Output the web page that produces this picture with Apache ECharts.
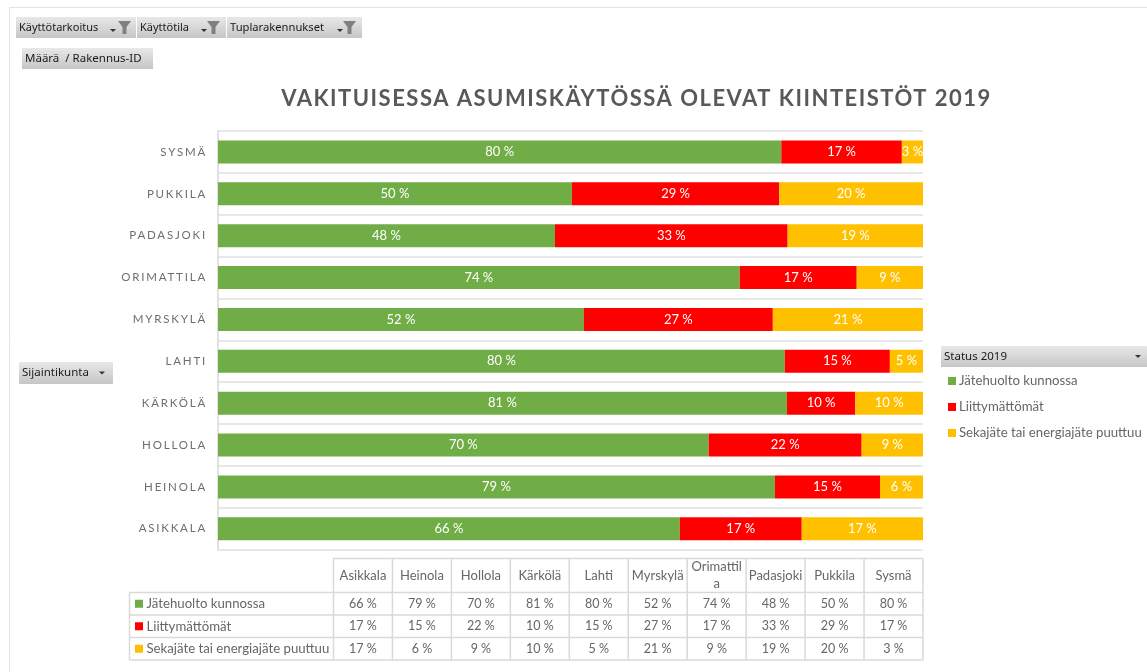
<!DOCTYPE html>
<html><head><meta charset="utf-8">
<style>html,body{margin:0;padding:0;background:#fff}#c{width:1147px;height:672px}</style>
<script src="https://cdn.jsdelivr.net/npm/echarts@6/dist/echarts.min.js"></script>
</head><body><div id="c"></div>
<script>
const categories = ["Asikkala","Heinola","Hollola","Kärkölä","Lahti","Myrskylä","Orimattila","Padasjoki","Pukkila","Sysmä"];
const tableHeaders = ["Asikkala","Heinola","Hollola","Kärkölä","Lahti","Myrskylä","Orimattil\na","Padasjoki","Pukkila","Sysmä"];
const jatehuolto = [65.5,79.0,69.6,80.7,80.4,51.9,74.0,47.8,50.2,79.9];
const liittymattomat = [17.3,14.9,21.7,9.7,14.9,26.8,16.6,33.0,29.4,17.1];
const sekajate = [17.2,6.1,8.7,9.6,4.7,21.3,9.4,19.2,20.4,3.0];
const seriesNames = ["Jätehuolto kunnossa","Liittymättömät","Sekajäte tai energiajäte puuttuu"];
const seriesColors = ["#70ad47","#ff0000","#ffc000"];
const titleText = "VAKITUISESSA ASUMISKÄYTÖSSÄ OLEVAT KIINTEISTÖT 2019";

const FONT = "Lato, 'Open Sans', sans-serif";
const UI = "'Noto Sans', sans-serif";
const spaced = new Map([[titleText,"1.5px"]]);
categories.forEach(c => spaced.set(c.toUpperCase(),"1.8px"));
const origFill = CanvasRenderingContext2D.prototype.fillText;
CanvasRenderingContext2D.prototype.fillText = function(t,x,y,m){
  this.letterSpacing = spaced.get(t) || "0px";
  return m===undefined ? origFill.call(this,t,x,y) : origFill.call(this,t,x,y,m);
};

const pct = v => Math.round(v) + " %";
const g = [];
function line(x1,y1,x2,y2,color,w){
  g.push({type:'line',silent:true,z:5,shape:{x1,y1,x2,y2},style:{stroke:color||'#d9d9d9',lineWidth:w||1.5}});
}
function text(x,y,t,size,color,align,font,lh){
  g.push({type:'text',silent:true,z:7,x,y,style:{text:t,fill:color,font:size+'px '+(font||FONT),align:align||'left',verticalAlign:'middle',lineHeight:lh||undefined}});
}
function button(x,y,w,h,label,opts){
  opts=opts||{};
  g.push({type:'rect',silent:true,z:4,shape:{x,y,width:w,height:h},style:{fill:new echarts.graphic.LinearGradient(0,0,0,1,[{offset:0,color:'#e8e8e8'},{offset:1,color:'#c6c6c6'}])}});
  text(x+3,y+h/2,label,opts.size||11.5,'#1a1a1a','left',UI);
  if(opts.arrowX){
    const a=opts.arrowX, b=y+h/2+(opts.funnel?3:0);
    g.push({type:'polygon',silent:true,z:6,shape:{points:[[a-3,b-1.5],[a+3,b-1.5],[a,b+1.5]]},style:{fill:'#333'}});
  }
  if(opts.funnel){
    const f=opts.funnel, t=y+4;
    g.push({type:'polygon',silent:true,z:6,shape:{points:[[f,t],[f+13,t],[f+8.5,t+6],[f+8.5,t+13],[f+4.5,t+13],[f+4.5,t+6]]},style:{fill:'#808080'}});
  }
}

// outer frame
line(9,7.5,1147,7.5,'#e3e3e3',1); line(9.5,7,9.5,672,'#e3e3e3',1);
// pivot buttons
button(16,17,120,21,"Käyttötarkoitus",{arrowX:113,funnel:118,size:11});
button(137,17,89,21,"Käyttötila",{arrowX:204,funnel:207,size:11});
button(227,17,135,21,"Tuplarakennukset",{arrowX:340,funnel:343,size:11.2});
button(22,48,131,21,"Määrä  / Rakennus-ID");
button(19,362,94,22,"Sijaintikunta",{arrowX:102});
button(941,346,206,21,"Status 2019",{arrowX:1138});

// data table
const X0=333.5, CW=58.95, XL=129.5, ys=[558.5,592.5,615,637.5,660];
line(X0,ys[0],X0+10*CW,ys[0]);
for(let i=1;i<4+1;i++) line(XL,ys[i],X0+10*CW,ys[i]);
line(XL,ys[1],XL,ys[4]);
for(let i=0;i<=10;i++) line(X0+i*CW,ys[0],X0+i*CW,ys[4]);
tableHeaders.forEach((h,i)=>{
  text(X0+(i+.5)*CW,(ys[0]+ys[1])/2,h,13,'#666666','center',FONT,17);
});
[jatehuolto,liittymattomat,sekajate].forEach((arr,r)=>{
  const yc=(ys[r+1]+ys[r+2])/2;
  g.push({type:'rect',silent:true,z:6,shape:{x:135,y:yc-4,width:8,height:8},style:{fill:seriesColors[r]}});
  text(146.5,yc,seriesNames[r],13.2,'#666666','left');
  arr.forEach((v,i)=>text(X0+(i+.5)*CW,yc,pct(v),12.5,'#666666','center'));
});

const chart = echarts.init(document.getElementById('c'));
chart.setOption({
  animation:false,
  backgroundColor:'#fff',
  title:{text:titleText,left:631.5,top:82,textAlign:'center',textStyle:{fontFamily:FONT,fontSize:22,fontWeight:'bold',color:'#595959',lineHeight:24}},
  legend:{orient:'vertical',left:948,top:374,padding:0,itemWidth:8,itemHeight:8,itemGap:12,icon:'rect',
    textStyle:{fontFamily:FONT,fontSize:13.2,color:'#666666',padding:[0,0,0,-2],lineHeight:14},data:seriesNames,selectedMode:false},
  grid:{left:218,top:131,width:705,height:418.7,containLabel:false},
  xAxis:{type:'value',min:0,max:100,show:false},
  yAxis:{type:'category',data:categories,
    axisLine:{show:true,lineStyle:{color:'#d9d9d9',width:1.5}},axisTick:{show:false},
    splitLine:{show:true,interval:0,lineStyle:{color:'#e0e0e0',width:1.5}},
    axisLabel:{margin:11,fontFamily:FONT,fontSize:11.5,color:'#6e6e6e',formatter:v=>v.toUpperCase()}},
  series:[jatehuolto,liittymattomat,sekajate].map((d,i)=>({
    type:'bar',name:seriesNames[i],stack:'s',data:d,barWidth:23,
    itemStyle:{color:seriesColors[i]},
    label:{show:true,position:'inside',color:'#fff',fontFamily:FONT,fontSize:13,formatter:p=>pct(p.value)}
  })),
  graphic:{elements:g}
});
</script></body></html>
